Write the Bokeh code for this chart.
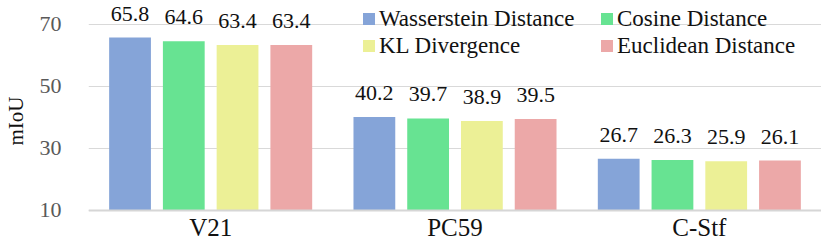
from bokeh.plotting import figure
from bokeh.models import ColumnDataSource, FactorRange, Range1d, FixedTicker, Legend, LegendItem, Span
from bokeh.transform import dodge
from bokeh.core.properties import value
from bokeh.embed import file_html
from bokeh.resources import INLINE

categories = ["V21", "PC59", "C-Stf"]
series_names = ["Wasserstein Distance", "Cosine Distance", "KL Divergence", "Euclidean Distance"]
wasserstein = [65.8, 40.2, 26.7]
cosine = [64.6, 39.7, 26.3]
kl = [63.4, 38.9, 25.9]
euclidean = [63.4, 39.5, 26.1]
y_ticks = [10, 30, 50, 70]

colors = ["#85a4d8", "#67e392", "#ecf096", "#eca8a8"]
offsets = [-0.33, -0.11, 0.11, 0.33]
bar_w = 0.171
FONT = "'Liberation Serif'"
LEGEND_FONT = "'Liberation Serif', 'DejaVu Serif', serif"
base = y_ticks[0]

data = {"cat": categories}
keys = ["w", "c", "k", "e"]
for k, vals in zip(keys, [wasserstein, cosine, kl, euclidean]):
    data[k] = vals
    data[k + "_t"] = ["%.1f" % v for v in vals]
src = ColumnDataSource(data)

# frame covers the full height; the x-axis line and category labels are drawn at y = 10
p = figure(x_range=FactorRange(*categories), y_range=Range1d(0, 77.74),
           width=821, height=241, output_backend="svg", toolbar_location=None,
           min_border_left=84, min_border_right=0, min_border_top=0, min_border_bottom=0)
p.outline_line_color = None
p.xgrid.grid_line_color = None
p.ygrid.grid_line_color = "#d9d9d9"
p.ygrid.grid_line_width = 1

renderers = {}
for k, off, col, name in zip(keys, offsets, colors, series_names):
    renderers[name] = p.vbar(x=dodge("cat", off, range=p.x_range), top=k, bottom=base,
                             width=bar_w, source=src, fill_color=col, line_color=None)

p.add_layout(Span(location=base, dimension="width", line_color="#d6d6d6", line_width=2))

# category labels (x axis)
p.text(x="cat", y=base, text="cat", source=src, text_align="center",
       text_baseline="alphabetic", y_offset=17,
       text_font=value(FONT), text_font_size="25px", text_color="#111111")
p.xaxis.visible = False

# value labels, drawn after all bars
for k, off in zip(keys, offsets):
    p.text(x=dodge("cat", off, range=p.x_range), y=k, text=k + "_t", source=src,
           text_align="center", text_baseline="alphabetic", y_offset=-24,
           text_font=value(FONT), text_font_size="22px", text_color="#111111")

# legend fills column by column: col 1 = Wasserstein, KL; col 2 = Cosine, Euclidean
order = [series_names[0], series_names[2], series_names[1], series_names[3]]
items = [LegendItem(label=n, renderers=[renderers[n]]) for n in order]
legend = Legend(items=items, ncols=2, location=(273, 182),
                glyph_width=15, glyph_height=15, label_standoff=3, label_width=220,
                label_height=27, spacing=0, padding=0, margin=0,
                label_text_font=LEGEND_FONT, label_text_font_size="23px", label_text_color="#111111",
                border_line_color=None, background_fill_alpha=0)
p.add_layout(legend)

p.yaxis.ticker = FixedTicker(ticks=y_ticks)
p.yaxis.axis_line_color = None
p.yaxis.major_tick_line_color = None
p.yaxis.minor_tick_line_color = None
p.yaxis.major_label_text_font = FONT
p.yaxis.major_label_text_font_size = "22px"
p.yaxis.major_label_text_color = "#595959"
p.yaxis.major_label_standoff = 21
p.yaxis.axis_label = "mIoU"
p.yaxis.axis_label_text_font = FONT
p.yaxis.axis_label_text_font_size = "21px"
p.yaxis.axis_label_text_font_style = "normal"
p.yaxis.axis_label_text_color = "#111111"
p.yaxis.axis_label_standoff = 9

open("out.html", "w").write(file_html(p, INLINE))
